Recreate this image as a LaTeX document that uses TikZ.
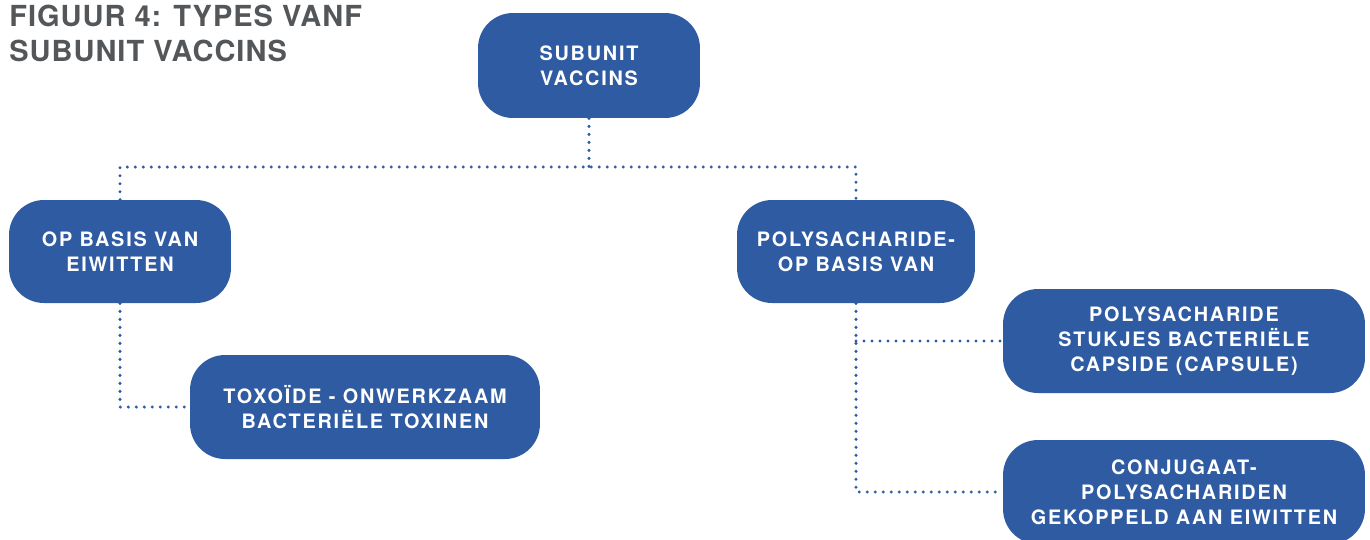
\documentclass[tikz,border=0pt]{standalone}
\usepackage{fontspec}
\newfontfamily\boxfont{TeX Gyre Heros}[LetterSpace=9]
\newfontfamily\titlefont{TeX Gyre Heros}[LetterSpace=3.5]
\definecolor{vacblue}{RGB}{47,91,162}
\definecolor{titlegrey}{RGB}{84,87,90}
\tikzset{
	vbox/.style={fill=vacblue, draw=none, rounded corners=0.7cm, text=white, align=center, inner sep=0pt,
		font=\boxfont\bfseries\fontsize{11.3}{14.2}\selectfont},
	dotline/.style={vacblue, line width=1.9pt, line cap=round, dash pattern=on 0pt off 0.16cm}
}

\begin{document}
\begin{tikzpicture}[x=0.02cm, y=-0.02cm]
			%%%%% START %%%%%
			
			\useasboundingbox (0, 0) rectangle (1370, 539);
			
			\node[anchor=north west, inner sep=0pt, align=left, text=titlegrey,
				font=\titlefont\bfseries\fontsize{16.5}{19.9}\selectfont] (title) at (9, 5)
				{FIGUUR 4: TYPES VANF\\SUBUNIT VACCINS};
			
			\node[vbox, minimum width=4.44cm, minimum height=2.1cm] (top) at (589, 65.5) {SUBUNIT\\VACCINS};
			
			\node[vbox, minimum width=4.44cm, minimum height=2.06cm] (eiwit) at (120, 251.5) {OP BASIS VAN\\EIWITTEN};
			\node[vbox, minimum width=4.76cm, minimum height=2.06cm] (poly) at (856, 251.5) {POLYSACHARIDE-\\OP BASIS VAN};
			
			\node[vbox, minimum width=7cm, minimum height=2.08cm] (toxo) at (365, 407) {TOXOÏDE - ONWERKZAAM\\BACTERIËLE TOXINEN};
			
			\node[vbox, minimum width=7.24cm, minimum height=2.08cm] (caps) at (1184, 341) {POLYSACHARIDE\\STUKJES BACTERIËLE\\CAPSIDE (CAPSULE)};
			\node[vbox, minimum width=7.24cm, minimum height=2.08cm] (conj) at (1184, 492) {CONJUGAAT-\\POLYSACHARIDEN\\GEKOPPELD AAN EIWITTEN};
			
			\coordinate (split) at (589, 167);
			\coordinate (branch) at (poly.south |- caps.west);
			
			\draw[dotline] (top.south) -- (split);
			\draw[dotline] (eiwit.north) |- (split) -| (poly.north);
			
			\draw[dotline] (eiwit.south) |- (toxo.west);
			
			\draw[dotline] (poly.south) -- (branch) |- (conj.west);
			\draw[dotline] (branch) -- (caps.west);
			
			%%%%% END %%%%%
\end{tikzpicture}
\end{document}
